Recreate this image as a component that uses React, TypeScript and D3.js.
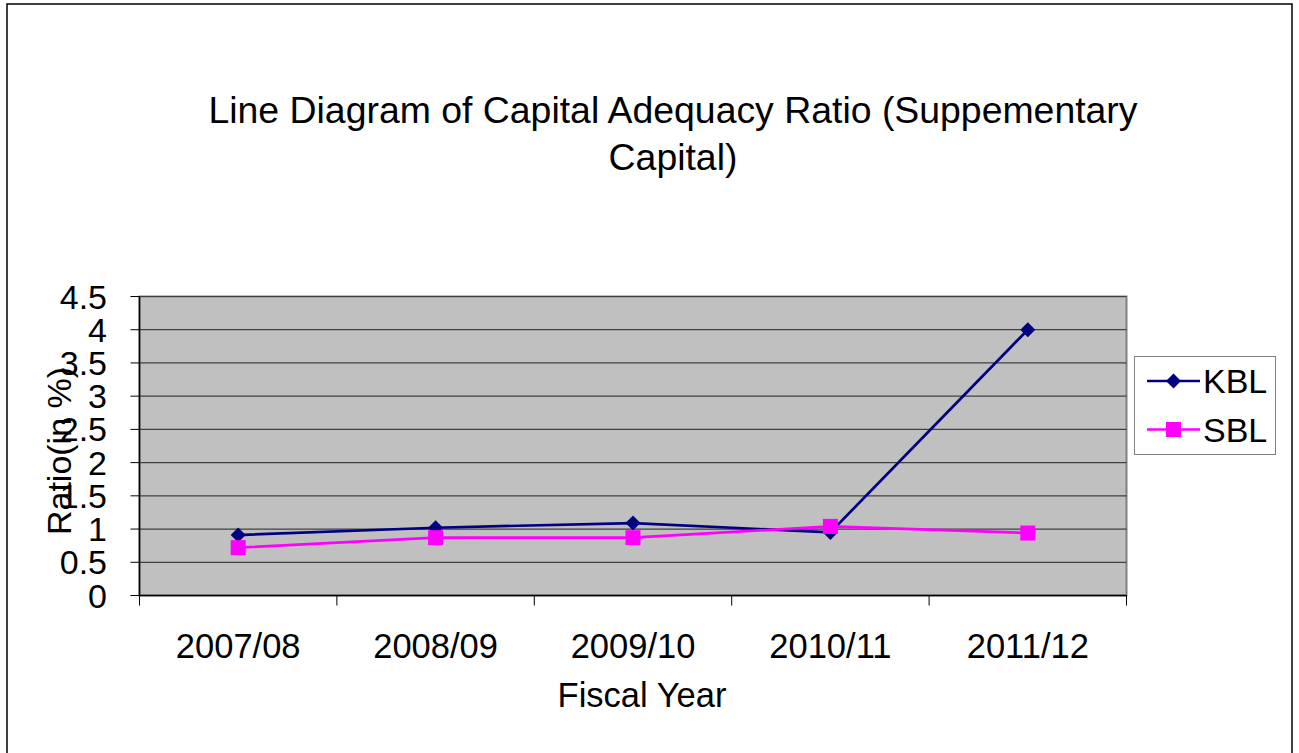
import React from "react";
import * as d3 from "d3";

const categories = ["2007/08", "2008/09", "2009/10", "2010/11", "2011/12"];
const kblValues = [0.91, 1.02, 1.09, 0.95, 4.0];
const sblValues = [0.72, 0.87, 0.87, 1.04, 0.94];
const yTicks = [0, 0.5, 1, 1.5, 2, 2.5, 3, 3.5, 4, 4.5];
const titleLines = ["Line Diagram of Capital Adequacy Ratio (Suppementary", "Capital)"];

const FONT = "'Liberation Sans', Arial, sans-serif";

export default function App() {
  const W = 1299, H = 753;
  const plot = { left: 139.5, right: 1126.5, top: 296.5, bottom: 595.5 };
  const x = d3.scaleBand<string>().domain(categories).range([plot.left, plot.right]).padding(0);
  const y = d3.scaleLinear().domain([0, 4.5]).range([plot.bottom, plot.top]);
  const cx = (c: string) => (x(c) as number) + x.bandwidth() / 2;
  const line = d3.line<number>().x((_, i) => cx(categories[i])).y((d) => y(d));
  const kblPath = line(kblValues) || "";
  const sblPath = line(sblValues) || "";
  const diamond = (px: number, py: number, r: number) => `M${px},${py - r}L${px + r},${py}L${px},${py + r}L${px - r},${py}Z`;
  const tickXs = categories.map((c) => x(c) as number).concat([plot.right]);

  return (
    <svg width={W} height={H} style={{ position: "absolute", left: 0, top: 0, display: "block" }} fontFamily={FONT}>
      <rect x={0} y={0} width={W} height={H} fill="#fff" />
      <rect x={7} y={4} width={1285} height={770} fill="#fff" stroke="#000" strokeWidth={1.5} />
      {/* Title */}
      {titleLines.map((t, i) => (
        <text key={i} x={673} y={123 + i * 47} fontSize={37.4} textAnchor="middle" fill="#000">{t}</text>
      ))}
      {/* Plot area */}
      <rect x={plot.left} y={plot.top} width={plot.right - plot.left} height={plot.bottom - plot.top} fill="#C0C0C0" stroke="#808080" strokeWidth={2} />
      {yTicks.filter((t) => t > 0).map((t) => (
        <line key={t} x1={plot.left} x2={plot.right} y1={y(t)} y2={y(t)} stroke="#404040" strokeWidth={1.2} />
      ))}
      {/* Axes */}
      <line x1={plot.left} x2={plot.left} y1={plot.top} y2={plot.bottom} stroke="#000" strokeWidth={1.5} />
      <line x1={plot.left} x2={plot.right} y1={plot.bottom} y2={plot.bottom} stroke="#000" strokeWidth={1.5} />
      {yTicks.map((t) => (
        <g key={t}>
          <line x1={plot.left - 9} x2={plot.left} y1={y(t)} y2={y(t)} stroke="#000" strokeWidth={1} />
          <text x={107} y={y(t) + 12} fontSize={34} textAnchor="end" fill="#000">{t}</text>
        </g>
      ))}
      {tickXs.map((tx, i) => (
        <line key={i} x1={tx} x2={tx} y1={plot.bottom} y2={plot.bottom + 10} stroke="#000" strokeWidth={1} />
      ))}
      {categories.map((c) => (
        <text key={c} x={cx(c)} y={658} fontSize={34.5} textAnchor="middle" fill="#000">{c}</text>
      ))}
      <text x={642} y={706.5} fontSize={34.5} textAnchor="middle" fill="#000">Fiscal Year</text>
      <text transform={`translate(71,451) rotate(-90)`} fontSize={34} textAnchor="middle" fill="#000">Ratio(in %)</text>
      {/* Series */}
      <path d={kblPath} fill="none" stroke="#000080" strokeWidth={2.7} />
      <path d={sblPath} fill="none" stroke="#FF00FF" strokeWidth={2.7} />
      {kblValues.map((v, i) => (
        <path key={i} d={diamond(cx(categories[i]), y(v), 7.5)} fill="#000080" />
      ))}
      {sblValues.map((v, i) => (
        <rect key={i} x={cx(categories[i]) - 7.5} y={y(v) - 7.5} width={15} height={15} fill="#FF00FF" />
      ))}
      {/* Legend */}
      <rect x={1134.5} y={356.5} width={141} height={98} fill="#fff" stroke="#808080" strokeWidth={1} />
      <line x1={1147} x2={1200} y1={381} y2={381} stroke="#000080" strokeWidth={2.5} />
      <path d={diamond(1173.5, 381, 7.5)} fill="#000080" />
      <text x={1203} y={393} fontSize={34} fill="#000">KBL</text>
      <line x1={1147} x2={1200} y1={429.5} y2={429.5} stroke="#FF00FF" strokeWidth={2.5} />
      <rect x={1166} y={422} width={15} height={15} fill="#FF00FF" />
      <text x={1203} y={441.5} fontSize={34} fill="#000">SBL</text>
    </svg>
  );
}
